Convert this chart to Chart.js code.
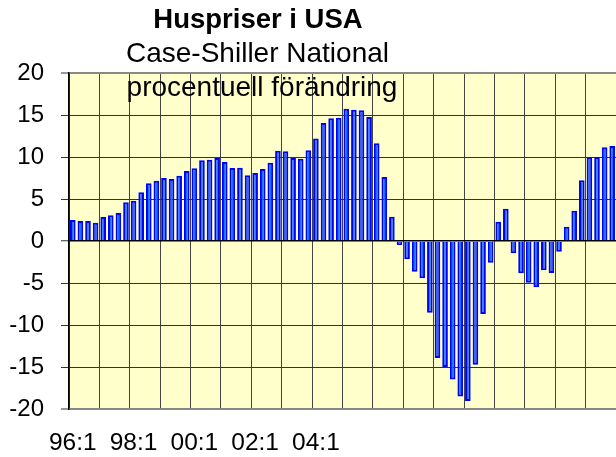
<!DOCTYPE html>
<html><head><meta charset="utf-8">
<script src="https://cdn.jsdelivr.net/npm/chart.js@4"></script>
<style>html,body{margin:0;padding:0;background:#fff}#wrap{width:616px;height:457px;position:relative}</style>
</head><body><div id="wrap"><canvas id="c" width="616" height="457"></canvas></div>
<script>
const titleText = 'Huspriser i USA';
const subtitleLines = ['Case-Shiller National', 'procentuell förändring'];
const quarters = [
 '96:1','96:2','96:3','96:4','97:1','97:2','97:3','97:4','98:1','98:2','98:3','98:4',
 '99:1','99:2','99:3','99:4','00:1','00:2','00:3','00:4','01:1','01:2','01:3','01:4',
 '02:1','02:2','02:3','02:4','03:1','03:2','03:3','03:4','04:1','04:2','04:3','04:4',
 '05:1','05:2','05:3','05:4','06:1','06:2','06:3','06:4','07:1','07:2','07:3','07:4',
 '08:1','08:2','08:3','08:4','09:1','09:2','09:3','09:4','10:1','10:2','10:3','10:4',
 '11:1','11:2','11:3','11:4','12:1','12:2','12:3','12:4','13:1','13:2','13:3','13:4'
];
const priceChange = [
 2.5, 2.38, 2.38, 2.18,
 2.86, 3.06, 3.33, 4.6,
 4.8, 5.8, 6.87, 7.18,
 7.5, 7.38, 7.78, 8.33,
 8.67, 9.6, 9.68, 9.88,
 9.4, 8.69, 8.73, 7.82,
 8.1, 8.57, 9.33, 10.75,
 10.67, 9.88, 9.8, 10.8,
 12.2, 14.05, 14.6, 14.68,
 15.75, 15.63, 15.56, 14.76,
 11.63, 7.62, 2.9, -0.48,
 -2.18, -3.65, -4.44, -8.53,
 -13.93, -15.0, -16.5, -18.5,
 -19.05, -14.72, -8.69, -2.58,
 2.3, 3.85, -1.47, -3.85,
 -4.96, -5.52, -3.49, -3.81,
 -1.27, 1.71, 3.61, 7.22,
 9.96, 10.0, 11.15, 11.3
];
const xTickLabels = ['96:1', '98:1', '00:1', '02:1', '04:1'];
const yMin = -20, yMax = 20, yStep = 5;

const FONT = "'Liberation Sans', Arial, Helvetica, sans-serif";

const plotBackground = {
  id: 'plotBackground',
  beforeDraw(chart) {
    const {ctx, chartArea: a} = chart;
    ctx.save();
    ctx.fillStyle = '#FFFFCC';
    ctx.fillRect(a.left, a.top, a.right - a.left, a.bottom - a.top);
    ctx.restore();
  }
};

const titleBlock = {
  id: 'titleBlock',
  afterDraw(chart) {
    const ctx = chart.ctx;
    ctx.save();
    ctx.fillStyle = '#000';
    ctx.textAlign = 'center';
    ctx.textBaseline = 'alphabetic';
    ctx.font = "bold 27.5px " + FONT;
    ctx.fillText(titleText, 258, 28);
    ctx.font = "28px " + FONT;
    ctx.fillText(subtitleLines[0], 257.5, 62);
    ctx.fillText(subtitleLines[1], 262, 96);
    ctx.restore();
  }
};

new Chart(document.getElementById('c'), {
  type: 'bar',
  data: {
    labels: quarters,
    datasets: [{
      data: priceChange,
      backgroundColor: '#1a70ff',
      borderColor: '#0000ff',
      borderWidth: 2,
      barPercentage: 0.74,
      categoryPercentage: 1.0
    }]
  },
  options: {
    responsive: false,
    animation: false,
    layout: {padding: {top: 73, left: 0, right: 0, bottom: 0}},
    plugins: {legend: {display: false}, tooltip: {enabled: false}, title: {display: false}},
    scales: {
      x: {
        offset: true,
        afterFit(s) { s.height = 48; s.paddingLeft = 0; s.paddingRight = 0; },
        grid: {
          offset: true,
          drawTicks: false,
          color: (c) => (c.index !== undefined && c.index % 4 === 0) ? '#444' : 'rgba(0,0,0,0)',
          lineWidth: 1
        },
        border: {display: true, color: '#888', width: 2},
        ticks: {
          autoSkip: false, maxRotation: 0, minRotation: 0, padding: 20,
          color: '#000', font: {family: FONT, size: 24.5},
          callback: function(v, i) { const q = quarters[i]; return xTickLabels.includes(q) ? q : ''; }
        }
      },
      y: {
        min: yMin, max: yMax,
        afterFit(s) { s.width = 69; },
        grid: {
          color: (c) => (c.tick && (c.tick.value === yMin || c.tick.value === yMax)) ? '#888' : (c.tick && c.tick.value === 0 ? '#000' : '#333'),
          lineWidth: (c) => (c.tick && (c.tick.value === yMin || c.tick.value === yMax)) ? 2 : (c.tick && c.tick.value === 0 ? 1.5 : 1),
          tickLength: 8, tickColor: '#333', tickWidth: 1
        },
        border: {display: true, color: '#000', width: 1.5},
        ticks: {stepSize: yStep, padding: 17, color: '#000', font: {family: FONT, size: 24}}
      }
    }
  },
  plugins: [plotBackground, titleBlock]
});
</script></body></html>
